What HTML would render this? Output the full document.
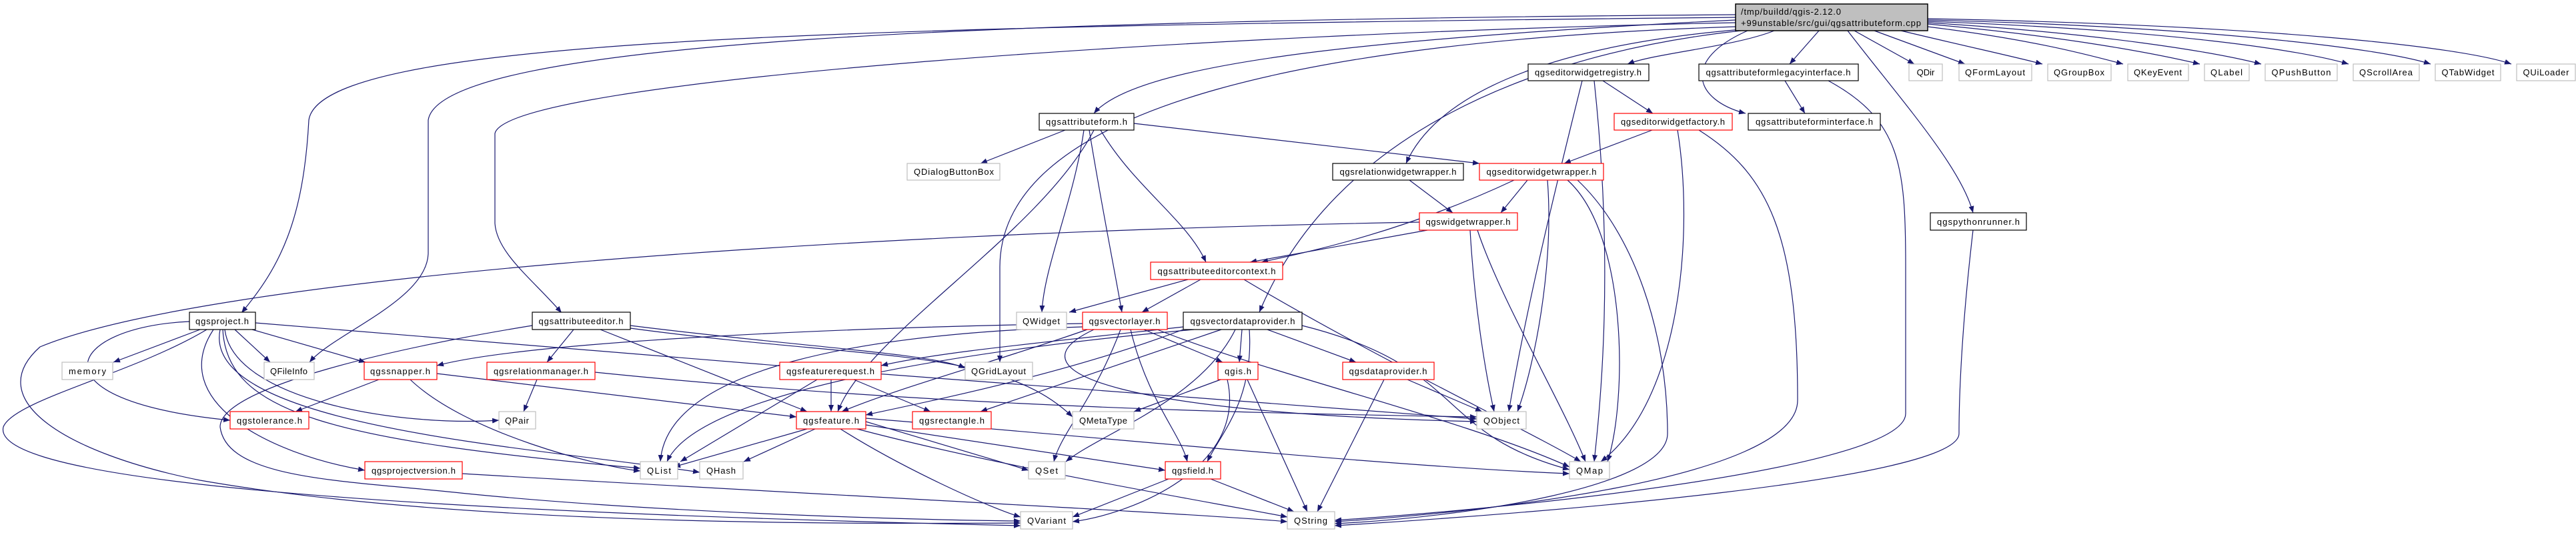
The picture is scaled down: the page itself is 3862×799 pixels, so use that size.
<!DOCTYPE html>
<html><head><meta charset="utf-8">
<style>
html,body{margin:0;padding:0;background:#fff;width:3862px;height:799px;overflow:hidden}
svg{display:block}
text{font-family:"Liberation Sans",sans-serif;font-size:13px;fill:#000}
.e path{fill:none;stroke:#191970;stroke-width:1.2}
.b{fill:#fff;stroke:#000;stroke-width:1.2}
.r{fill:#fff;stroke:#ff0000;stroke-width:1.2}
.g{fill:#fff;stroke:#bfbfbf;stroke-width:1.2}
</style></head><body>
<svg width="3862" height="799" viewBox="0 0 3862 799" xmlns="http://www.w3.org/2000/svg">
<defs><marker id="a" markerWidth="10" markerHeight="8" refX="10" refY="4" orient="auto" markerUnits="userSpaceOnUse"><path d="M0,0 L10,4 L0,8 z" fill="#191970"/></marker></defs>
<g class="e" marker-end="url(#a)">
<path marker-end="url(#a)" d="M2602,30 C2000,60 1700,100 1640,170"/>
<path marker-end="url(#a)" d="M2602,26 C1200,40 480,60 463,180 C455,330 420,400 362,469"/>
<path marker-end="url(#a)" d="M2602,22 C1500,30 660,60 642,180 L642,380 C640,450 500,500 464,543"/>
<path marker-end="url(#a)" d="M2602,34 C1800,50 760,120 742,200 L742,335 C745,380 800,420 842,469"/>
<path marker-end="url(#a)" d="M2602,40 C2000,60 1500,150 1499,400 L1499,543"/>
<path marker-end="url(#a)" d="M2610,46 C2300,80 2000,200 1888,468"/>
<path marker-end="url(#a)" d="M2612,44 C2300,70 2150,150 2108,245"/>
<path marker-end="url(#a)" d="M2660,46 C2600,70 2480,80 2440,96"/>
<path marker-end="url(#a)" d="M2727,46 L2683,96"/>
<path marker-end="url(#a)" d="M2620,46 C2520,90 2540,150 2617,170"/>
<path marker-end="url(#a)" d="M2780,46 L2870,96"/>
<path marker-end="url(#a)" d="M2810,46 L2946,96"/>
<path marker-end="url(#a)" d="M2850,46 C2950,70 3020,85 3062,96"/>
<path marker-end="url(#a)" d="M2890,40 C3050,60 3130,82 3183,96"/>
<path marker-end="url(#a)" d="M2890,36 C3100,55 3230,80 3298,96"/>
<path marker-end="url(#a)" d="M2890,34 C3150,50 3320,78 3390,96"/>
<path marker-end="url(#a)" d="M2890,32 C3250,45 3450,75 3521,96"/>
<path marker-end="url(#a)" d="M2890,30 C3300,40 3570,72 3644,96"/>
<path marker-end="url(#a)" d="M2890,28 C3400,38 3690,70 3765,96"/>
<path marker-end="url(#a)" d="M2770,46 C2850,150 2940,250 2958,319"/>
<path marker-end="url(#a)" d="M1597,195 L1470,245"/>
<path marker-end="url(#a)" d="M1625,195 C1610,300 1565,400 1562,468"/>
<path marker-end="url(#a)" d="M1633,195 C1650,300 1670,400 1682,468"/>
<path marker-end="url(#a)" d="M1640,195 C1560,350 1300,500 1256,617"/>
<path marker-end="url(#a)" d="M1650,195 C1700,280 1780,330 1808,393"/>
<path marker-end="url(#a)" d="M1700,185 L2218,245"/>
<path marker-end="url(#a)" d="M2403,121 L2478,170"/>
<path marker-end="url(#a)" d="M2372,121 C2340,250 2290,450 2262,617"/>
<path marker-end="url(#a)" d="M2390,121 C2420,400 2400,600 2390,692"/>
<path marker-end="url(#a)" d="M2676,121 L2706,170"/>
<path marker-end="url(#a)" d="M2741,121 C2850,180 2857,250 2857,400 L2857,620 C2857,700 2300,760 2001,780"/>
<path marker-end="url(#a)" d="M2477,195 L2345,245"/>
<path marker-end="url(#a)" d="M2515,195 C2540,350 2520,600 2400,692"/>
<path marker-end="url(#a)" d="M2547,195 C2650,260 2695,350 2695,600 C2695,720 2200,770 2001,782"/>
<path marker-end="url(#a)" d="M2113,270 L2178,319"/>
<path marker-end="url(#a)" d="M2290,270 L2250,319"/>
<path marker-end="url(#a)" d="M2270,270 C2100,350 1950,380 1891,393"/>
<path marker-end="url(#a)" d="M2320,270 C2330,400 2300,550 2275,617"/>
<path marker-end="url(#a)" d="M2350,270 C2440,350 2440,600 2410,692"/>
<path marker-end="url(#a)" d="M2365,270 C2450,350 2500,500 2500,650 C2500,730 2200,775 2001,785"/>
<path marker-end="url(#a)" d="M2140,345 L1874,393"/>
<path marker-end="url(#a)" d="M2204,345 C2210,450 2225,550 2240,617"/>
<path marker-end="url(#a)" d="M2215,345 C2250,450 2340,600 2377,692"/>
<path marker-end="url(#a)" d="M2128,333 C1200,350 300,420 60,520 C-30,600 100,680 300,720 C700,790 1300,785 1530,784"/>
<path marker-end="url(#a)" d="M2958,345 C2940,500 2937,600 2937,650 C2937,720 2300,770 2001,788"/>
<path marker-end="url(#a)" d="M1781,419 L1603,468"/>
<path marker-end="url(#a)" d="M1800,419 L1712,468"/>
<path marker-end="url(#a)" d="M1865,419 C2050,530 2300,650 2370,692"/>
<path marker-end="url(#a)" d="M300,494 L170,543"/>
<path marker-end="url(#a)" d="M352,494 L405,543"/>
<path marker-end="url(#a)" d="M378,494 L548,543"/>
<path marker-end="url(#a)" d="M284,482 C100,490 40,600 345,630"/>
<path marker-end="url(#a)" d="M337,494 C350,600 600,640 748,630"/>
<path marker-end="url(#a)" d="M334,494 C340,620 500,660 960,702"/>
<path marker-end="url(#a)" d="M330,494 C300,640 800,670 1049,708"/>
<path marker-end="url(#a)" d="M320,494 C250,600 400,680 547,705"/>
<path marker-end="url(#a)" d="M310,494 C200,560 20,600 5,640 C-10,700 300,760 1530,788"/>
<path marker-end="url(#a)" d="M383,484 C800,520 1800,600 2214,628"/>
<path marker-end="url(#a)" d="M860,494 L820,543"/>
<path marker-end="url(#a)" d="M900,494 L1210,617"/>
<path marker-end="url(#a)" d="M798,488 C600,520 330,580 330,640 C340,720 520,720 700,740 C1000,770 1400,780 1530,781"/>
<path marker-end="url(#a)" d="M945,488 C1200,520 1400,530 1447,552"/>
<path marker-end="url(#a)" d="M945,492 C1300,540 1500,520 1608,625"/>
<path marker-end="url(#a)" d="M1623,485 C1300,490 800,510 655,548"/>
<path marker-end="url(#a)" d="M1715,494 L1833,543"/>
<path marker-end="url(#a)" d="M1680,494 C1640,600 1590,650 1580,692"/>
<path marker-end="url(#a)" d="M1695,494 C1720,600 1770,650 1780,692"/>
<path marker-end="url(#a)" d="M1735,494 C1900,560 2200,630 2353,700"/>
<path marker-end="url(#a)" d="M1623,490 C1300,500 1000,550 990,692"/>
<path marker-end="url(#a)" d="M1630,494 C1500,540 1350,580 1262,617"/>
<path marker-end="url(#a)" d="M1640,494 C1500,560 1700,620 2214,632"/>
<path marker-end="url(#a)" d="M1774,490 C1500,520 1400,530 1321,548"/>
<path marker-end="url(#a)" d="M1831,494 L1470,617"/>
<path marker-end="url(#a)" d="M1862,494 L1858,543"/>
<path marker-end="url(#a)" d="M1900,494 L2033,543"/>
<path marker-end="url(#a)" d="M1852,494 C1800,600 1650,650 1598,692"/>
<path marker-end="url(#a)" d="M1873,494 C1880,600 1830,650 1810,692"/>
<path marker-end="url(#a)" d="M1952,488 C2200,550 2150,650 2353,704"/>
<path marker-end="url(#a)" d="M1774,494 C1600,560 1400,600 1298,622"/>
<path marker-end="url(#a)" d="M1790,494 C1500,520 1050,580 1000,692"/>
<path marker-end="url(#a)" d="M568,569 L443,617"/>
<path marker-end="url(#a)" d="M615,569 C700,650 900,700 960,706"/>
<path marker-end="url(#a)" d="M655,560 L1194,625"/>
<path marker-end="url(#a)" d="M805,569 L785,617"/>
<path marker-end="url(#a)" d="M892,558 C1400,610 1900,620 2214,625"/>
<path marker-end="url(#a)" d="M1246,569 L1246,617"/>
<path marker-end="url(#a)" d="M1280,569 L1395,617"/>
<path marker-end="url(#a)" d="M1225,569 L1020,692"/>
<path marker-end="url(#a)" d="M1830,569 L1700,617"/>
<path marker-end="url(#a)" d="M1840,569 C1870,700 1700,770 1608,782"/>
<path marker-end="url(#a)" d="M1870,569 L1960,767"/>
<path marker-end="url(#a)" d="M2110,569 L2222,617"/>
<path marker-end="url(#a)" d="M2075,569 L1975,767"/>
<path marker-end="url(#a)" d="M1210,643 L1010,700"/>
<path marker-end="url(#a)" d="M1222,643 L1115,692"/>
<path marker-end="url(#a)" d="M1298,632 L1542,705"/>
<path marker-end="url(#a)" d="M1298,637 L1747,705"/>
<path marker-end="url(#a)" d="M1298,627 C1700,660 2100,700 2353,710"/>
<path marker-end="url(#a)" d="M1260,643 C1350,700 1480,760 1530,775"/>
<path marker-end="url(#a)" d="M1285,643 C1500,700 1800,750 1930,775"/>
<path marker-end="url(#a)" d="M1752,718 L1608,775"/>
<path marker-end="url(#a)" d="M1815,718 L1940,767"/>
<path marker-end="url(#a)" d="M693,710 C1200,740 1800,770 1930,782"/>
</g>
<rect x="2602" y="6" width="288" height="40" fill="#bfbfbf" stroke="#000" stroke-width="1.5"/>
<text x="2610" y="22" textLength="150">/tmp/buildd/qgis-2.12.0</text>
<text x="2610" y="39" textLength="270">+99unstable/src/gui/qgsattributeform.cpp</text>
<g text-anchor="middle">
<rect class="b" x="2291" y="96" width="181" height="25"/><text x="2381" y="113" textLength="160">qgseditorwidgetregistry.h</text>
<rect class="b" x="2547" y="96" width="239" height="25"/><text x="2666" y="113" textLength="217">qgsattributeformlegacyinterface.h</text>
<rect class="g" x="2862" y="96" width="50" height="25"/><text x="2887" y="113">QDir</text>
<rect class="g" x="2937" y="96" width="109" height="25"/><text x="2991" y="113" textLength="90">QFormLayout</text>
<rect class="g" x="3070" y="96" width="95" height="25"/><text x="3117" y="113" textLength="76">QGroupBox</text>
<rect class="g" x="3190" y="96" width="91" height="25"/><text x="3235" y="113" textLength="72">QKeyEvent</text>
<rect class="g" x="3305" y="96" width="67" height="25"/><text x="3338" y="113" textLength="48">QLabel</text>
<rect class="g" x="3396" y="96" width="108" height="25"/><text x="3450" y="113" textLength="89">QPushButton</text>
<rect class="g" x="3528" y="96" width="99" height="25"/><text x="3577" y="113" textLength="80">QScrollArea</text>
<rect class="g" x="3651" y="96" width="98" height="25"/><text x="3700" y="113" textLength="79">QTabWidget</text>
<rect class="g" x="3773" y="96" width="88" height="25"/><text x="3817" y="113" textLength="69">QUiLoader</text>
<rect class="b" x="1558" y="170" width="142" height="25"/><text x="1629" y="187" textLength="122">qgsattributeform.h</text>
<rect class="r" x="2420" y="170" width="177" height="25"/><text x="2508" y="187" textLength="156">qgseditorwidgetfactory.h</text>
<rect class="b" x="2621" y="170" width="198" height="25"/><text x="2720" y="187" textLength="176">qgsattributeforminterface.h</text>
<rect class="g" x="1360" y="245" width="139" height="25"/><text x="1430" y="262" textLength="120">QDialogButtonBox</text>
<rect class="b" x="1998" y="245" width="196" height="25"/><text x="2096" y="262" textLength="175">qgsrelationwidgetwrapper.h</text>
<rect class="r" x="2218" y="245" width="186" height="25"/><text x="2311" y="262" textLength="165">qgseditorwidgetwrapper.h</text>
<rect class="r" x="2128" y="319" width="147" height="26"/><text x="2201" y="337" textLength="127">qgswidgetwrapper.h</text>
<rect class="b" x="2894" y="319" width="144" height="26"/><text x="2966" y="337" textLength="124">qgspythonrunner.h</text>
<rect class="r" x="1725" y="393" width="198" height="26"/><text x="1824" y="411" textLength="177">qgsattributeeditorcontext.h</text>
<rect class="b" x="284" y="468" width="99" height="26"/><text x="333" y="486" textLength="80">qgsproject.h</text>
<rect class="b" x="798" y="468" width="147" height="26"/><text x="871" y="486" textLength="127">qgsattributeeditor.h</text>
<rect class="g" x="1524" y="468" width="75" height="26"/><text x="1561" y="486" textLength="56">QWidget</text>
<rect class="r" x="1623" y="468" width="127" height="26"/><text x="1686" y="486" textLength="107">qgsvectorlayer.h</text>
<rect class="b" x="1774" y="468" width="178" height="26"/><text x="1863" y="486" textLength="157">qgsvectordataprovider.h</text>
<rect class="g" x="93" y="543" width="76" height="26"/><text x="131" y="561" textLength="56">memory</text>
<rect class="g" x="396" y="543" width="75" height="26"/><text x="433" y="561" textLength="56">QFileInfo</text>
<rect class="r" x="546" y="543" width="109" height="26"/><text x="600" y="561" textLength="90">qgssnapper.h</text>
<rect class="r" x="730" y="543" width="162" height="26"/><text x="811" y="561" textLength="142">qgsrelationmanager.h</text>
<rect class="r" x="1169" y="543" width="152" height="26"/><text x="1245" y="561" textLength="132">qgsfeaturerequest.h</text>
<rect class="g" x="1447" y="543" width="101" height="26"/><text x="1497" y="561" textLength="82">QGridLayout</text>
<rect class="r" x="1826" y="543" width="60" height="26"/><text x="1856" y="561" textLength="40">qgis.h</text>
<rect class="r" x="2013" y="543" width="137" height="26"/><text x="2081" y="561" textLength="117">qgsdataprovider.h</text>
<rect class="r" x="345" y="617" width="118" height="26"/><text x="404" y="635" textLength="98">qgstolerance.h</text>
<rect class="g" x="748" y="617" width="55" height="26"/><text x="775" y="635" textLength="36">QPair</text>
<rect class="r" x="1194" y="617" width="104" height="26"/><text x="1246" y="635" textLength="84">qgsfeature.h</text>
<rect class="r" x="1368" y="617" width="118" height="26"/><text x="1427" y="635" textLength="98">qgsrectangle.h</text>
<rect class="g" x="1608" y="617" width="92" height="26"/><text x="1654" y="635" textLength="72">QMetaType</text>
<rect class="g" x="2214" y="617" width="74" height="26"/><text x="2251" y="635" textLength="54">QObject</text>
<rect class="r" x="547" y="692" width="146" height="26"/><text x="620" y="710" textLength="126">qgsprojectversion.h</text>
<rect class="g" x="960" y="692" width="56" height="26"/><text x="988" y="710" textLength="36">QList</text>
<rect class="g" x="1049" y="692" width="65" height="26"/><text x="1081" y="710" textLength="44">QHash</text>
<rect class="g" x="1542" y="692" width="55" height="26"/><text x="1569" y="710" textLength="34">QSet</text>
<rect class="r" x="1747" y="692" width="83" height="26"/><text x="1788" y="710" textLength="62">qgsfield.h</text>
<rect class="g" x="2353" y="692" width="60" height="26"/><text x="2383" y="710" textLength="40">QMap</text>
<rect class="g" x="1530" y="767" width="78" height="26"/><text x="1569" y="785" textLength="58">QVariant</text>
<rect class="g" x="1930" y="767" width="71" height="26"/><text x="1965" y="785" textLength="50">QString</text>
</g>
</svg>
</body></html>
